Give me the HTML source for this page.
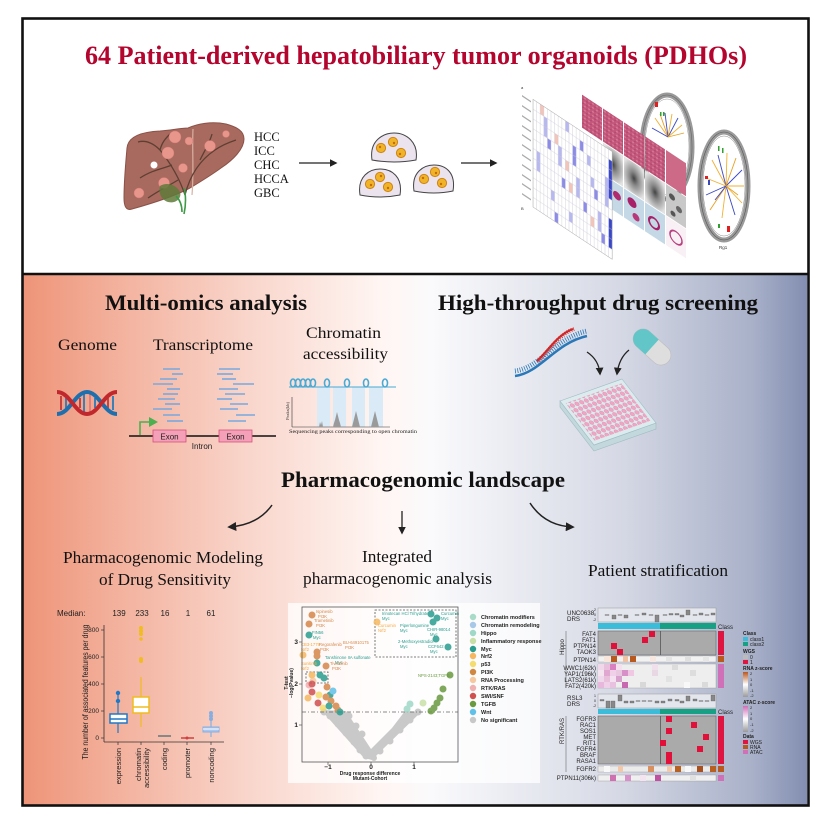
<!DOCTYPE html>
<html><head><meta charset="utf-8"><style>
html,body{margin:0;padding:0;background:#fff;}
svg{display:block;}
</style></head><body>
<svg width="831" height="831" viewBox="0 0 831 831" xmlns="http://www.w3.org/2000/svg">
<defs>
<linearGradient id="bg" x1="0" y1="0" x2="1" y2="0">
<stop offset="0" stop-color="#ee9478"/><stop offset="0.124" stop-color="#f3b29e"/><stop offset="0.29" stop-color="#f9d6cc"/><stop offset="0.46" stop-color="#fff6f3"/><stop offset="0.52" stop-color="#fafafc"/><stop offset="0.76" stop-color="#d6d9e5"/><stop offset="0.93" stop-color="#a9b1c9"/><stop offset="1" stop-color="#838eb1"/>
</linearGradient>
<pattern id="wells" patternUnits="userSpaceOnUse" width="9" height="8.5"><circle cx="4.5" cy="4.25" r="3.4" fill="#f2a4c4" stroke="#d87aa2" stroke-width="0.6"/></pattern>
<pattern id="hgrid" patternUnits="userSpaceOnUse" x="533" y="92" width="3.6" height="9.8"><rect width="3.6" height="9.8" fill="none" stroke="#c8c8d4" stroke-width="0.4"/></pattern>
<pattern id="pinktex" patternUnits="userSpaceOnUse" width="4" height="4"><rect width="4" height="4" fill="#c4587c"/><circle cx="1" cy="1" r="0.8" fill="#e08aa6"/><circle cx="3" cy="3" r="0.6" fill="#9c3a5e"/></pattern>
<radialGradient id="graytile" cx="0.5" cy="0.5" r="0.6"><stop offset="0" stop-color="#444"/><stop offset="0.35" stop-color="#888"/><stop offset="1" stop-color="#e2e2e2"/></radialGradient>
<linearGradient id="rnaz" x1="0" y1="0" x2="0" y2="1"><stop offset="0" stop-color="#b8561c"/><stop offset="0.5" stop-color="#ffffff"/><stop offset="1" stop-color="#9a9a9a"/></linearGradient>
<linearGradient id="ataz" x1="0" y1="0" x2="0" y2="1"><stop offset="0" stop-color="#d070b8"/><stop offset="0.5" stop-color="#ffffff"/><stop offset="1" stop-color="#9a9a9a"/></linearGradient>
<marker id="ah" viewBox="0 0 10 10" refX="8" refY="5" markerWidth="6" markerHeight="6" orient="auto"><path d="M0,0 L10,5 L0,10 Z" fill="#222"/></marker>
</defs>

<!-- background -->
<rect x="0" y="0" width="831" height="831" fill="#fff"/>
<rect x="23" y="274" width="784" height="531" fill="url(#bg)"/>

<!-- TITLE -->
<text x="85" y="64" font-family="Liberation Serif, serif" font-weight="bold" font-size="26" fill="#b3052e" textLength="662" lengthAdjust="spacingAndGlyphs">64 Patient-derived hepatobiliary tumor organoids (PDHOs)</text>

<!-- LIVER -->
<g>
<path d="M127,148 C128,137 140,132 160,131 C172,130 181,128 188,128 C197,124 211,121 226,124 C237,127 244,131 244,139 C244,149 233,160 221,168 C210,176 200,182 190,188 C175,196 150,204 132,209 C126,211 124,206 124,198 C124,180 126,160 127,148 Z" fill="#a86a5e" stroke="#8a5248" stroke-width="1"/>
<path d="M193,129 C192,150 194,170 192,195" stroke="#d9b0a2" stroke-width="1.2" fill="none"/>
<g stroke="#5e3f33" stroke-width="1.3" fill="none">
<path d="M185,195 C180,180 172,165 160,150 C152,142 145,140 138,142"/>
<path d="M172,165 C165,168 152,170 140,178"/>
<path d="M160,150 C162,142 166,138 170,134"/>
<path d="M185,195 C190,175 200,160 215,150 C222,145 230,142 236,140"/>
<path d="M200,160 C205,150 210,142 212,134"/>
<path d="M178,180 C170,185 160,190 148,198"/>
</g>
<g fill="#e8958c" stroke="#d47c74" stroke-width="0.5">
<circle cx="175" cy="137" r="6"/><circle cx="168" cy="153" r="6"/><circle cx="210" cy="146" r="5.5"/><circle cx="183" cy="168" r="4.5"/><circle cx="164" cy="183" r="5.5"/><circle cx="139" cy="193" r="5"/><circle cx="189" cy="141" r="4"/><circle cx="226" cy="134" r="3.5"/>
</g>
<circle cx="154" cy="165" r="3.5" fill="#fff"/>
<path d="M160,186 C166,182 176,184 180,192 C182,198 176,204 168,202 C162,200 158,194 160,186 Z" fill="#5f7a3a" opacity="0.85"/>
<path d="M176,196 C180,200 182,205 182,212 M184,188 C186,195 186,205 184,214" stroke="#3f9a48" stroke-width="1.6" fill="none"/>
</g>
<g font-family="Liberation Serif, serif" font-size="12.5" fill="#111">
<text x="254" y="141">HCC</text><text x="254" y="155">ICC</text><text x="254" y="169">CHC</text><text x="254" y="183">HCCA</text><text x="254" y="197">GBC</text>
</g>
<line x1="299" y1="163" x2="336" y2="163" stroke="#222" stroke-width="1.3" marker-end="url(#ah)"/>
<line x1="461" y1="163" x2="496" y2="163" stroke="#222" stroke-width="1.3" marker-end="url(#ah)"/>

<!-- organoid domes -->
<g stroke="#444" stroke-width="1" fill="#ebe3ee">
<path d="M372,160 C369,140 384,133 394,133 C406,133 419,142 416,160 Q394,164 372,160 Z"/>
<path d="M360,195 C357,176 370,169 380,169 C392,169 403,177 400,195 Q380,199 360,195 Z"/>
<path d="M414,191 C411,172 424,165 434,165 C446,165 456,173 453,191 Q434,195 414,191 Z"/>
</g>
<g fill="#f0b428" stroke="#d08414" stroke-width="1">
<circle cx="381" cy="148" r="4.6"/><circle cx="393" cy="142" r="4.6"/><circle cx="401" cy="153" r="4.6"/>
<circle cx="370" cy="184" r="4.6"/><circle cx="380" cy="177" r="4.6"/><circle cx="388" cy="187" r="4.6"/>
<circle cx="424" cy="179" r="4.6"/><circle cx="435" cy="172" r="4.6"/><circle cx="442" cy="183" r="4.6"/>
</g>
<g fill="#c86a10">
<circle cx="380" cy="147" r="1.2"/><circle cx="394" cy="143" r="1.2"/><circle cx="400" cy="154" r="1.2"/><circle cx="371" cy="185" r="1.2"/><circle cx="381" cy="176" r="1.2"/><circle cx="388" cy="188" r="1.2"/><circle cx="423" cy="178" r="1.2"/><circle cx="436" cy="173" r="1.2"/><circle cx="441" cy="184" r="1.2"/>
</g>

<!-- COMPOSITE FIGURE -->
<!-- circos 1 -->
<g>
<ellipse cx="667" cy="147" rx="25" ry="52" fill="#fff" stroke="#999" stroke-width="5"/>
<ellipse cx="667" cy="147" rx="25" ry="52" fill="none" stroke="#666" stroke-width="0.6"/>
<ellipse cx="667" cy="147" rx="22" ry="48" fill="none" stroke="#777" stroke-width="0.4"/>
<g stroke-width="0.9">
<line x1="668" y1="137" x2="655" y2="118" stroke="#f0b030"/><line x1="668" y1="137" x2="660" y2="114" stroke="#e8a020"/><line x1="668" y1="137" x2="665" y2="113" stroke="#3a48c0"/><line x1="668" y1="137" x2="672" y2="114" stroke="#f0b030"/><line x1="668" y1="137" x2="678" y2="118" stroke="#3a48c0"/><line x1="668" y1="137" x2="682" y2="125" stroke="#f0b030"/><line x1="668" y1="137" x2="652" y2="128" stroke="#3a48c0"/><line x1="668" y1="137" x2="684" y2="133" stroke="#e8a020"/>
</g>
<rect x="655" y="102" width="3" height="5" fill="#e02020"/><rect x="660" y="112" width="1.5" height="4" fill="#30a030"/><rect x="663" y="112" width="1.5" height="4" fill="#30a030"/>
</g>
<!-- circos 2 -->
<g>
<ellipse cx="724" cy="186" rx="24" ry="54" fill="#fff" stroke="#9a9a9a" stroke-width="5"/>
<ellipse cx="724" cy="186" rx="24" ry="54" fill="none" stroke="#555" stroke-width="0.6"/>
<ellipse cx="724" cy="186" rx="21" ry="50" fill="none" stroke="#666" stroke-width="0.4"/>
<g stroke-width="0.9">
<line x1="726" y1="186" x2="712" y2="160" stroke="#f0b030"/><line x1="726" y1="186" x2="718" y2="155" stroke="#3a48c0"/><line x1="726" y1="186" x2="727" y2="153" stroke="#f0b030"/><line x1="726" y1="186" x2="736" y2="158" stroke="#e8a020"/><line x1="726" y1="186" x2="742" y2="170" stroke="#3a48c0"/><line x1="726" y1="186" x2="744" y2="186" stroke="#f0b030"/><line x1="726" y1="186" x2="742" y2="203" stroke="#f0b030"/><line x1="726" y1="186" x2="735" y2="215" stroke="#3a48c0"/><line x1="726" y1="186" x2="722" y2="218" stroke="#f0b030"/><line x1="726" y1="186" x2="710" y2="210" stroke="#e8a020"/><line x1="726" y1="186" x2="706" y2="195" stroke="#3a48c0"/><line x1="726" y1="186" x2="706" y2="178" stroke="#f0b030"/><line x1="726" y1="186" x2="715" y2="200" stroke="#3a48c0"/><line x1="726" y1="186" x2="738" y2="195" stroke="#e8a020"/>
</g>
<rect x="705" y="176" width="3" height="3" fill="#e02020"/><rect x="708" y="180" width="2" height="5" fill="#3a48c0"/>
<rect x="718" y="146" width="1.5" height="5" fill="#30a030"/><rect x="722" y="148" width="1.5" height="5" fill="#30a030"/>
<rect x="718" y="224" width="2" height="4" fill="#30a030"/><rect x="727" y="226" width="3" height="6" fill="#e02020"/>
<text x="719" y="249" font-family="Liberation Sans, sans-serif" font-size="4.5" fill="#333">Rg1</text>
</g>

<g transform="matrix(1,0.66,0,1,0,-344.5)">
<!-- tiles -->
<g>
<rect x="582" y="55" width="20" height="33" fill="url(#pinktex)"/>
<rect x="603" y="55" width="20" height="33" fill="url(#pinktex)"/>
<rect x="624" y="55" width="20" height="33" fill="url(#pinktex)"/>
<rect x="645" y="55" width="20" height="33" fill="url(#pinktex)"/>
<rect x="666" y="55" width="20" height="33" fill="#cc6a88"/>
<rect x="603" y="89" width="20" height="31" fill="url(#graytile)"/>
<rect x="624" y="89" width="20" height="31" fill="url(#graytile)"/>
<rect x="645" y="89" width="20" height="31" fill="url(#graytile)"/>
<rect x="666" y="89" width="20" height="31" fill="#c8c8c8"/>
<circle cx="672" cy="98" r="3" fill="#555"/><circle cx="679" cy="106" r="3" fill="#666"/><circle cx="673" cy="114" r="2.5" fill="#555"/>
<rect x="603" y="121" width="20" height="29" fill="#c4d8e6"/>
<rect x="624" y="121" width="20" height="29" fill="#c4d8e6"/>
<rect x="645" y="121" width="20" height="29" fill="#c4d8e6"/>
<rect x="666" y="121" width="20" height="29" fill="#f8f0f4"/>
<circle cx="617" cy="133" r="4" fill="#b02a70"/><circle cx="632" cy="130" r="4.5" fill="#a82068"/><circle cx="636" cy="142" r="3.5" fill="#b8387a"/><circle cx="654" cy="136" r="5" fill="none" stroke="#a82068" stroke-width="2"/><circle cx="676" cy="136" r="6" fill="none" stroke="#b84080" stroke-width="1.5"/>
</g>
<!-- heatmap -->
<rect x="533" y="92" width="79.2" height="107.8" fill="#fff"/>
<g>
<rect x="543.8" y="101.8" width="3.6" height="19.6" fill="#b8b8f0"/><rect x="558.2" y="121.4" width="3.6" height="19.6" fill="#b8b8f0"/><rect x="565.4" y="92" width="3.6" height="9.8" fill="#b8b8f0"/><rect x="576.2" y="141" width="3.6" height="19.6" fill="#b8b8f0"/><rect x="587" y="111.6" width="3.6" height="9.8" fill="#b8b8f0"/><rect x="597.8" y="160.6" width="3.6" height="19.6" fill="#b8b8f0"/><rect x="551" y="170.4" width="3.6" height="9.8" fill="#b8b8f0"/><rect x="569" y="180.2" width="3.6" height="9.8" fill="#b8b8f0"/><rect x="590.6" y="131.2" width="3.6" height="9.8" fill="#b8b8f0"/><rect x="605" y="121.4" width="3.6" height="29.4" fill="#b8b8f0"/><rect x="536.6" y="141" width="3.6" height="19.6" fill="#b8b8f0"/>
<rect x="547.4" y="121.4" width="3.6" height="9.8" fill="#8c8ce8"/><rect x="561.8" y="150.8" width="3.6" height="9.8" fill="#8c8ce8"/><rect x="572.6" y="111.6" width="3.6" height="19.6" fill="#8c8ce8"/><rect x="583.4" y="160.6" width="3.6" height="9.8" fill="#8c8ce8"/><rect x="594.2" y="141" width="3.6" height="9.8" fill="#8c8ce8"/><rect x="601.4" y="180.2" width="3.6" height="9.8" fill="#8c8ce8"/><rect x="554.6" y="190" width="3.6" height="9.8" fill="#8c8ce8"/><rect x="579.8" y="101.8" width="3.6" height="9.8" fill="#8c8ce8"/>
<rect x="540.2" y="92" width="3.6" height="9.8" fill="#f4c4b8"/><rect x="554.6" y="111.6" width="3.6" height="9.8" fill="#f4c4b8"/><rect x="569" y="150.8" width="3.6" height="9.8" fill="#f4c4b8"/><rect x="590.6" y="170.4" width="3.6" height="9.8" fill="#f4c4b8"/><rect x="565.4" y="131.2" width="3.6" height="9.8" fill="#f4c4b8"/>
<rect x="608.6" y="101.8" width="3.6" height="39.2" fill="#3a48c8"/><rect x="608.6" y="160.6" width="3.6" height="29.4" fill="#3a48c8"/>
</g>
<rect x="533" y="92" width="79.2" height="107.8" fill="url(#hgrid)" stroke="#aaa" stroke-width="0.5"/>
<g fill="#aaa">
<rect x="522" y="95" width="9" height="1.5"/><rect x="522" y="105" width="9" height="1.5"/><rect x="522" y="115" width="9" height="1.5"/><rect x="522" y="125" width="9" height="1.5"/><rect x="522" y="134" width="9" height="1.5"/><rect x="522" y="144" width="9" height="1.5"/><rect x="522" y="154" width="9" height="1.5"/><rect x="522" y="164" width="9" height="1.5"/><rect x="522" y="174" width="9" height="1.5"/><rect x="522" y="183" width="9" height="1.5"/><rect x="522" y="193" width="9" height="1.5"/>
</g>
</g>
<text x="521" y="89" font-family="Liberation Sans, sans-serif" font-size="4" fill="#333">a</text>
<text x="521" y="210" font-family="Liberation Sans, sans-serif" font-size="4" fill="#333">B</text>

<!-- frame -->
<rect x="22.5" y="18.5" width="786" height="787" fill="none" stroke="#111" stroke-width="2.6"/>
<line x1="22" y1="274" x2="809" y2="274" stroke="#111" stroke-width="2.4"/>

<!-- ========== BOTTOM PANEL ========== -->
<text x="105" y="310" font-family="Liberation Serif, serif" font-weight="bold" font-size="22" fill="#111" textLength="202" lengthAdjust="spacingAndGlyphs">Multi-omics analysis</text>
<text x="438" y="310" font-family="Liberation Serif, serif" font-weight="bold" font-size="22" fill="#111" textLength="320" lengthAdjust="spacingAndGlyphs">High-throughput drug screening</text>

<g font-family="Liberation Serif, serif" font-size="16" fill="#111">
<text x="58" y="350" textLength="59" lengthAdjust="spacingAndGlyphs">Genome</text>
<text x="153" y="350" textLength="100" lengthAdjust="spacingAndGlyphs">Transcriptome</text>
<text x="306" y="338" textLength="75" lengthAdjust="spacingAndGlyphs">Chromatin</text>
<text x="303" y="359" textLength="85" lengthAdjust="spacingAndGlyphs">accessibility</text>
</g>

<!-- DNA helix -->
<g>
<g stroke-width="1.8">
<line x1="61" y1="396" x2="61" y2="410" stroke="#c03a3a"/><line x1="66" y1="398" x2="66" y2="408" stroke="#2a7ab8"/><line x1="80" y1="398" x2="80" y2="408" stroke="#c03a3a"/><line x1="84" y1="394" x2="84" y2="412" stroke="#2a7ab8"/><line x1="90" y1="394" x2="90" y2="412" stroke="#e07a7a"/><line x1="95" y1="398" x2="95" y2="408" stroke="#2a7ab8"/><line x1="108" y1="398" x2="108" y2="408" stroke="#c03a3a"/><line x1="113" y1="396" x2="113" y2="410" stroke="#2a7ab8"/>
</g>
<path d="M57,414 C70,414 75,392 87,392 C99,392 104,414 117,414" stroke="#1e6fae" stroke-width="4" fill="none"/>
<path d="M57,392 C70,392 75,414 87,414 C99,414 104,392 117,392" stroke="#c0282e" stroke-width="4" fill="none"/>
</g>

<!-- transcript reads -->
<g stroke="#78a8e0" stroke-width="1.6">
<line x1="163" y1="369" x2="180" y2="369"/><line x1="172" y1="374" x2="183" y2="374"/><line x1="160" y1="379" x2="177" y2="379"/><line x1="153" y1="384" x2="173" y2="384"/><line x1="167" y1="389" x2="180" y2="389"/><line x1="163" y1="394" x2="178" y2="394"/><line x1="158" y1="399" x2="175" y2="399"/><line x1="165" y1="404" x2="180" y2="404"/><line x1="153" y1="409" x2="172" y2="409"/><line x1="163" y1="415" x2="180" y2="415"/><line x1="167" y1="421" x2="183" y2="421"/>
<line x1="219" y1="369" x2="240" y2="369"/><line x1="217" y1="374" x2="233" y2="374"/><line x1="222" y1="379" x2="236" y2="379"/><line x1="233" y1="384" x2="254" y2="384"/><line x1="219" y1="389" x2="238" y2="389"/><line x1="225" y1="394" x2="245" y2="394"/><line x1="217" y1="399" x2="232" y2="399"/><line x1="230" y1="404" x2="248" y2="404"/><line x1="220" y1="409" x2="238" y2="409"/><line x1="236" y1="415" x2="255" y2="415"/><line x1="228" y1="421" x2="246" y2="421"/>
</g>
<path d="M140,435 L140,422 L150,422" stroke="#4caf50" stroke-width="1.6" fill="none"/>
<path d="M149,417 L158,422 L149,427 Z" fill="#4caf50"/>
<line x1="129" y1="436" x2="276" y2="436" stroke="#111" stroke-width="1.4"/>
<rect x="153" y="430" width="33" height="12" fill="#f4a0b8" stroke="#d8507c" stroke-width="0.8"/>
<rect x="219" y="430" width="33" height="12" fill="#f4a0b8" stroke="#d8507c" stroke-width="0.8"/>
<g font-family="Liberation Sans, sans-serif" font-size="8" fill="#222" text-anchor="middle">
<text x="169.5" y="439.5">Exon</text><text x="235.5" y="439.5">Exon</text><text x="202" y="449">Intron</text>
</g>

<!-- chromatin -->
<g>
<rect x="317" y="387" width="13" height="40" fill="#dbeaf7"/><rect x="333" y="387" width="13" height="40" fill="#dbeaf7"/><rect x="352" y="387" width="13" height="40" fill="#dbeaf7"/><rect x="369" y="387" width="14" height="40" fill="#dbeaf7"/>
<line x1="289" y1="387" x2="396" y2="387" stroke="#4aaad4" stroke-width="1"/>
<g fill="none" stroke="#4aaad4" stroke-width="1.6">
<ellipse cx="293" cy="383" rx="2.5" ry="4"/><ellipse cx="298" cy="383" rx="2.5" ry="4"/><ellipse cx="303" cy="383" rx="2.5" ry="4"/><ellipse cx="308" cy="383" rx="2.5" ry="4"/><ellipse cx="313" cy="383" rx="2.5" ry="4"/><ellipse cx="327" cy="383" rx="2.5" ry="4"/><ellipse cx="347" cy="383" rx="2.5" ry="4"/><ellipse cx="366" cy="383" rx="2.5" ry="4"/><ellipse cx="385" cy="383" rx="2.5" ry="4"/>
</g>
<line x1="292" y1="397" x2="292" y2="427" stroke="#333" stroke-width="0.6"/>
<line x1="292" y1="427" x2="390" y2="427" stroke="#333" stroke-width="0.6"/>
<g fill="#9a9a9a">
<path d="M319,427 L320,422 L321,425 L322,421 L323,427 Z"/>
<path d="M333,427 L334,423 L335,420 L336,416 L337,412 L338,416 L339,420 L340,423 L341,427 Z"/>
<path d="M352,427 L353,423 L354,419 L355,415 L356,411 L357,415 L358,419 L359,423 L360,427 Z"/>
<path d="M371,427 L372,423 L373,419 L374,415 L375,411 L376,415 L377,419 L378,423 L379,427 Z"/>
</g>
<text transform="translate(289,420) rotate(-90)" font-family="Liberation Serif, serif" font-size="4.5" fill="#333">Peaks(kb)</text>
<text x="289" y="433" font-family="Liberation Serif, serif" font-size="5.5" fill="#222" textLength="128" lengthAdjust="spacingAndGlyphs">Sequencing peaks corresponding to open chromatin</text>
</g>

<!-- drug screening -->
<g>
<path d="M515,376 C540,373 555,343 587,336" stroke="#2a78b8" stroke-width="2.5" fill="none"/>
<path d="M515,373 C540,370 555,340 587,333" stroke="#2a78b8" stroke-width="5" fill="none" stroke-dasharray="0.8 1.6" transform="translate(0,-2)"/>
<path d="M537,361 C548,351 558,334 573,329" stroke="#d02828" stroke-width="2.2" fill="none"/>
<path d="M537,358 C548,348 558,331 573,326" stroke="#d02828" stroke-width="4" fill="none" stroke-dasharray="0.8 1.6" transform="translate(1,3)"/>
<g transform="translate(652,347) rotate(42)">
<rect x="-22" y="-10" width="44" height="20" rx="10" fill="#dedede" stroke="#bdbdbd" stroke-width="0.6"/>
<path d="M-12,-10 L0,-10 L0,10 L-12,10 A10,10 0 0 1 -12,-10 Z" fill="#62c6c8"/>
</g>
<path d="M587,352 Q599,360 600,374" stroke="#222" stroke-width="1.3" fill="none" marker-end="url(#ah)"/>
<path d="M629,350 Q619,358 617,374" stroke="#222" stroke-width="1.3" fill="none" marker-end="url(#ah)"/>
<polygon points="560,401 594,445 656,423 656,429 594,451 560,407" fill="#c2d8dc" stroke="#9fbcc2" stroke-width="0.6"/>
<g transform="matrix(0.5167,-0.1833,0.425,0.55,560,401)">
<rect x="0" y="0" width="120" height="80" fill="#dcebee" stroke="#9fbcc2" stroke-width="1"/>
<rect x="6" y="6" width="108" height="68" fill="url(#wells)"/>
</g>
</g>

<!-- Pharmacogenomic landscape -->
<text x="281" y="487" font-family="Liberation Serif, serif" font-weight="bold" font-size="22" fill="#111" textLength="284" lengthAdjust="spacingAndGlyphs">Pharmacogenomic landscape</text>
<path d="M272,505 Q258,525 229,527" stroke="#222" stroke-width="1.5" fill="none" marker-end="url(#ah)"/>
<line x1="402" y1="511" x2="402" y2="533" stroke="#222" stroke-width="1.3" marker-end="url(#ah)"/>
<path d="M530,503 Q545,526 573,527" stroke="#222" stroke-width="1.5" fill="none" marker-end="url(#ah)"/>

<g font-family="Liberation Serif, serif" font-size="17" fill="#111">
<text x="63" y="563" textLength="200" lengthAdjust="spacingAndGlyphs">Pharmacogenomic Modeling</text>
<text x="99" y="585" textLength="132" lengthAdjust="spacingAndGlyphs">of Drug Sensitivity</text>
<text x="362" y="562" textLength="70" lengthAdjust="spacingAndGlyphs">Integrated</text>
<text x="303" y="584" textLength="189" lengthAdjust="spacingAndGlyphs">pharmacogenomic analysis</text>
<text x="588" y="576" textLength="140" lengthAdjust="spacingAndGlyphs">Patient stratification</text>
</g>

<!-- BOX PLOT -->
<g font-family="Liberation Sans, sans-serif" fill="#222">
<text x="57" y="616" font-size="8">Median:</text>
<g font-size="8" text-anchor="middle"><text x="119" y="616">139</text><text x="142" y="616">233</text><text x="165" y="616">16</text><text x="188" y="616">1</text><text x="211" y="616">61</text></g>
<line x1="104" y1="625" x2="104" y2="742" stroke="#333" stroke-width="0.8"/>
<line x1="104" y1="742" x2="224" y2="742" stroke="#333" stroke-width="0.8"/>
<g stroke="#333" stroke-width="0.7"><line x1="101" y1="630" x2="104" y2="630"/><line x1="101" y1="657" x2="104" y2="657"/><line x1="101" y1="684" x2="104" y2="684"/><line x1="101" y1="711" x2="104" y2="711"/><line x1="101" y1="738" x2="104" y2="738"/>
<line x1="118" y1="742" x2="118" y2="745"/><line x1="141" y1="742" x2="141" y2="745"/><line x1="164" y1="742" x2="164" y2="745"/><line x1="187" y1="742" x2="187" y2="745"/><line x1="211" y1="742" x2="211" y2="745"/></g>
<g font-size="6.5" text-anchor="end"><text x="99" y="632">800</text><text x="99" y="659">600</text><text x="99" y="686">400</text><text x="99" y="713">200</text><text x="99" y="740">0</text></g>
<text transform="translate(88,692) rotate(-90)" font-size="8.5" text-anchor="middle" textLength="135" lengthAdjust="spacingAndGlyphs">The number of associated features per drug</text>
<g font-size="7.5" text-anchor="end">
<text transform="translate(121,748) rotate(-90)">expression</text>
<text transform="translate(141,748) rotate(-90)">chromatin</text>
<text transform="translate(149,748) rotate(-90)">accessibility</text>
<text transform="translate(167,748) rotate(-90)">coding</text>
<text transform="translate(190,748) rotate(-90)">promoter</text>
<text transform="translate(214,748) rotate(-90)">noncoding</text>
</g>
</g>
<!-- boxes -->
<g>
<line x1="118" y1="695" x2="118" y2="733" stroke="#1f78c8" stroke-width="1.2"/>
<rect x="110" y="714" width="17" height="9" fill="#fff" stroke="#1f78c8" stroke-width="1.5"/>
<line x1="110" y1="719" x2="127" y2="719" stroke="#1f78c8" stroke-width="1.5"/>
<circle cx="118" cy="693" r="2.2" fill="#1f78c8"/><circle cx="118" cy="701" r="2.2" fill="#1f78c8"/>
<line x1="141" y1="677" x2="141" y2="727" stroke="#f0bc20" stroke-width="1.2"/>
<rect x="133" y="697" width="16" height="16" fill="#fff" stroke="#f0bc20" stroke-width="1.5"/>
<line x1="133" y1="707" x2="149" y2="707" stroke="#f0bc20" stroke-width="1.5"/>
<g fill="#f0bc20"><circle cx="141" cy="628" r="2"/><circle cx="141" cy="631" r="2"/><circle cx="141" cy="634" r="2"/><circle cx="141" cy="639" r="1.8"/><circle cx="141" cy="659" r="2"/><circle cx="141" cy="661" r="2"/></g>
<line x1="158" y1="736" x2="171" y2="736" stroke="#888" stroke-width="2"/>
<line x1="181" y1="738" x2="194" y2="738" stroke="#d04040" stroke-width="1.5"/><circle cx="187" cy="738" r="1.5" fill="#d04040"/>
<line x1="211" y1="720" x2="211" y2="737" stroke="#88aee0" stroke-width="1.2"/>
<rect x="203" y="727" width="16" height="5" fill="#aac6ee" stroke="#88aee0" stroke-width="1"/>
<line x1="203" y1="729" x2="219" y2="729" stroke="#fff" stroke-width="1"/>
<g fill="#88aee0"><circle cx="211" cy="713" r="2"/><circle cx="211" cy="716" r="2"/><circle cx="211" cy="719" r="2"/></g>
</g>

<!-- VOLCANO -->
<rect x="288" y="603" width="252" height="180" fill="#fff" opacity="0.75"/>
<g>
<path d="M321,710 L346,711 L371,749 L392,728 L405,711 L421,712 L384,748 L372,760 L364,758 Z" fill="#c9c9c9"/>
<g fill="#c9c9c9">
<circle cx="324" cy="712" r="3.5"/><circle cx="330" cy="716" r="3.5"/><circle cx="338" cy="724" r="3.5"/><circle cx="346" cy="733" r="3.5"/><circle cx="354" cy="742" r="3.5"/><circle cx="360" cy="750" r="3.5"/><circle cx="366" cy="756" r="3.5"/><circle cx="349" cy="716" r="3.5"/><circle cx="356" cy="726" r="3.5"/><circle cx="362" cy="734" r="3.5"/><circle cx="418" cy="712" r="3.5"/><circle cx="410" cy="720" r="3.5"/><circle cx="400" cy="730" r="3.5"/><circle cx="390" cy="741" r="3.5"/><circle cx="380" cy="751" r="3.5"/><circle cx="374" cy="758" r="3"/>
</g>
<line x1="302" y1="712" x2="458" y2="712" stroke="#666" stroke-width="0.8" stroke-dasharray="4 2 1 2"/>
<rect x="375" y="610" width="81" height="47" fill="none" stroke="#555" stroke-width="0.8" stroke-dasharray="2 1.5"/>
<rect x="306" y="672" width="22" height="11" fill="none" stroke="#555" stroke-width="0.8" stroke-dasharray="2 1.5"/>
<g opacity="0.85">
<circle cx="312" cy="615" r="3.5" fill="#d4874a"/><circle cx="309" cy="624" r="3.5" fill="#d4874a"/><circle cx="309" cy="635" r="3.5" fill="#2a9d8f"/><circle cx="303" cy="655" r="3.5" fill="#f5b860"/><circle cx="317" cy="652" r="3.5" fill="#d4874a"/><circle cx="317" cy="656" r="3.5" fill="#d4874a"/><circle cx="317" cy="663" r="3.5" fill="#2a9d8f"/><circle cx="326" cy="666" r="3.5" fill="#d4874a"/><circle cx="313" cy="681" r="3.5" fill="#f5c8a0"/><circle cx="312" cy="675" r="3.5" fill="#f5b860"/><circle cx="309" cy="685" r="3.5" fill="#f0b0b0"/><circle cx="312" cy="684" r="3.5" fill="#d05050"/><circle cx="312" cy="692" r="3.5" fill="#d05050"/><circle cx="308" cy="698" r="3.5" fill="#f5b860"/><circle cx="319" cy="695" r="3.5" fill="#f5dc70"/><circle cx="318" cy="703" r="3.5" fill="#d05050"/><circle cx="323" cy="708" r="3.5" fill="#f5dc70"/>
<circle cx="320" cy="675" r="3.5" fill="#2a9d8f"/><circle cx="324" cy="678" r="3.5" fill="#2a9d8f"/><circle cx="327" cy="687" r="3.5" fill="#d4874a"/><circle cx="330" cy="695" r="3.5" fill="#2a9d8f"/><circle cx="333" cy="691" r="3.5" fill="#60c0e8"/><circle cx="331" cy="701" r="3.5" fill="#d4874a"/><circle cx="336" cy="706" r="3.5" fill="#d4874a"/><circle cx="338" cy="710" r="3.5" fill="#d4874a"/><circle cx="329" cy="706" r="3.5" fill="#2a9d8f"/><circle cx="340" cy="712" r="3.5" fill="#2a9d8f"/><circle cx="326" cy="697" r="3.5" fill="#d4874a"/>
<circle cx="431" cy="614" r="3.5" fill="#2a9d8f"/><circle cx="437" cy="618" r="3.5" fill="#2a9d8f"/><circle cx="433" cy="622" r="3.5" fill="#2a9d8f"/><circle cx="436" cy="639" r="3.5" fill="#2a9d8f"/><circle cx="448" cy="647" r="3.5" fill="#2a9d8f"/><circle cx="377" cy="622" r="3.5" fill="#f5b860"/>
<circle cx="450" cy="675" r="3.5" fill="#6a9a40"/><circle cx="443" cy="689" r="3.5" fill="#6a9a40"/><circle cx="440" cy="698" r="3.5" fill="#6a9a40"/><circle cx="437" cy="703" r="3.5" fill="#6a9a40"/><circle cx="434" cy="708" r="3.5" fill="#6a9a40"/><circle cx="431" cy="711" r="3.5" fill="#6a9a40"/><circle cx="410" cy="704" r="3.5" fill="#a0d8c8"/><circle cx="407" cy="709" r="3.5" fill="#a0d8c8"/><circle cx="423" cy="703" r="3.5" fill="#c8e0a8"/>
</g>
<g font-family="Liberation Sans, sans-serif" font-size="4.2">
<text x="316" y="613" fill="#d4874a">Ispinesib</text><text x="318" y="618" fill="#d4874a">PI3K</text>
<text x="314" y="622" fill="#d4874a">Trametinib</text><text x="316" y="627" fill="#d4874a">PI3K</text>
<text x="312" y="634" fill="#2a9d8f">FIN56</text><text x="313" y="639" fill="#2a9d8f">Myc</text>
<text x="301" y="646" fill="#f5a840">CB3-1779</text><text x="301" y="651" fill="#f5a840">Nrf2</text>
<text x="319" y="646" fill="#d4874a">Regorafenib</text><text x="320" y="651" fill="#d4874a">PI3K</text>
<text x="343" y="644" fill="#d4874a">BU-64910175</text><text x="345" y="649" fill="#d4874a">PI3K</text>
<text x="325" y="659" fill="#2a9d8f">Tanshinone IIA sulfonate</text><text x="335" y="664" fill="#2a9d8f">Myc</text>
<text x="330" y="665" fill="#d4874a">Tivantinib</text><text x="332" y="670" fill="#d4874a">PI3K</text>
<text x="301" y="665" fill="#f5a840">Sunitinib</text><text x="301" y="670" fill="#f5a840">Nrf2</text>
<text x="382" y="615" fill="#2a9d8f">Irinotecan HCl Trihydrate</text><text x="382" y="620" fill="#2a9d8f">Myc</text>
<text x="441" y="615" fill="#2a9d8f">Curcumin</text><text x="441" y="620" fill="#2a9d8f">Myc</text>
<text x="378" y="627" fill="#f5a840">Curcumin</text><text x="378" y="632" fill="#f5a840">Nrf2</text>
<text x="400" y="627" fill="#2a9d8f">Piperlongumine</text><text x="400" y="632" fill="#2a9d8f">Myc</text>
<text x="427" y="631" fill="#2a9d8f">CHIR-98014</text><text x="430" y="636" fill="#2a9d8f">Myc</text>
<text x="398" y="643" fill="#2a9d8f">2-Methoxyestradiol</text><text x="400" y="648" fill="#2a9d8f">Myc</text>
<text x="428" y="648" fill="#2a9d8f">CCF642</text><text x="430" y="653" fill="#2a9d8f">Myc</text>
<text x="418" y="677" fill="#6a9a40">NPS-2143;TGFB</text>
</g>
<rect x="302" y="607" width="156" height="155" fill="none" stroke="#555" stroke-width="0.8"/>
<g stroke="#555" stroke-width="0.7"><line x1="299" y1="642" x2="302" y2="642"/><line x1="299" y1="684" x2="302" y2="684"/><line x1="299" y1="725" x2="302" y2="725"/><line x1="328" y1="762" x2="328" y2="765"/><line x1="371" y1="762" x2="371" y2="765"/><line x1="414" y1="762" x2="414" y2="765"/></g>
<g font-family="Liberation Sans, sans-serif" font-size="6.5" font-weight="bold" fill="#222">
<text x="298" y="644" text-anchor="end">3</text><text x="298" y="686" text-anchor="end">2</text><text x="298" y="727" text-anchor="end">1</text>
<text x="328" y="769" text-anchor="middle">−1</text><text x="371" y="769" text-anchor="middle">0</text><text x="414" y="769" text-anchor="middle">1</text>
</g>
<g font-family="Liberation Sans, sans-serif" font-size="5" font-weight="bold" fill="#222" text-anchor="middle">
<text x="370" y="775">Drug response difference</text><text x="370" y="780">Mutant-Cohort</text>
<text transform="translate(288,683) rotate(-90)">T-test</text><text transform="translate(293,683) rotate(-90)">−log(Pvalue)</text>
</g>
<!-- legend -->
<g>
<circle cx="473" cy="617" r="3.2" fill="#a8dcc8"/><circle cx="473" cy="625" r="3.2" fill="#a8c8e8"/><circle cx="473" cy="633" r="3.2" fill="#a0d8c8"/><circle cx="473" cy="641" r="3.2" fill="#c8e0a8"/><circle cx="473" cy="649" r="3.2" fill="#2a9d8f"/><circle cx="473" cy="656" r="3.2" fill="#f5b860"/><circle cx="473" cy="664" r="3.2" fill="#f5dc70"/><circle cx="473" cy="672" r="3.2" fill="#d08840"/><circle cx="473" cy="680" r="3.2" fill="#f5c8a0"/><circle cx="473" cy="688" r="3.2" fill="#f0b0b0"/><circle cx="473" cy="696" r="3.2" fill="#d05050"/><circle cx="473" cy="704" r="3.2" fill="#6a9a40"/><circle cx="473" cy="712" r="3.2" fill="#60c0e8"/><circle cx="473" cy="720" r="3.2" fill="#c8c8c8"/>
<g font-family="Liberation Sans, sans-serif" font-size="5.5" font-weight="bold" fill="#222">
<text x="481" y="619">Chromatin modifiers</text><text x="481" y="627">Chromatin remodeling</text><text x="481" y="635">Hippo</text><text x="481" y="643">Inflammatory response</text><text x="481" y="651">Myc</text><text x="481" y="658">Nrf2</text><text x="481" y="666">p53</text><text x="481" y="674">PI3K</text><text x="481" y="682">RNA Processing</text><text x="481" y="690">RTK/RAS</text><text x="481" y="698">SWI/SNF</text><text x="481" y="706">TGFB</text><text x="481" y="714">Wnt</text><text x="481" y="722">No significant</text>
</g>
</g>
</g>

<!-- PATIENT STRATIFICATION HEATMAP -->
<g font-family="Liberation Sans, sans-serif" fill="#222">
<!-- group 1 -->
<text x="567" y="615" font-size="6.2">UNC0638</text><text x="567" y="621" font-size="6.2">DRS</text>
<g font-size="3.5"><text x="594" y="611">2</text><text x="594" y="616">0</text><text x="593" y="621">-2</text></g>
<rect x="598" y="608" width="118" height="14" fill="#e4e6ee" stroke="#999" stroke-width="0.5"/>
<g fill="#888" stroke="#555" stroke-width="0.3">
<rect x="605" y="614.6" width="4" height="0.8"/><rect x="612" y="615" width="4" height="4"/><rect x="618" y="614.6" width="4" height="0.8"/><rect x="624" y="615" width="4" height="3"/><rect x="635" y="614.6" width="4" height="0.8"/><rect x="642" y="613" width="4" height="2"/><rect x="649" y="614.6" width="4" height="0.8"/><rect x="655" y="615" width="4" height="7"/><rect x="663" y="614.6" width="4" height="0.8"/><rect x="669" y="613.5" width="4" height="1.5"/><rect x="675" y="613.5" width="4" height="1.5"/><rect x="680" y="615" width="4" height="2"/><rect x="686" y="610" width="4" height="5"/><rect x="693" y="614.6" width="4" height="0.8"/><rect x="699" y="613" width="4" height="2"/><rect x="705" y="614.6" width="4" height="0.8"/><rect x="711" y="613" width="4" height="2"/>
</g>
<rect x="598" y="623" width="62" height="6" fill="#3bbcd8"/><rect x="660" y="623" width="56" height="6" fill="#17a084"/>
<text x="718" y="629" font-size="6">Class</text>
<rect x="598" y="631" width="118" height="24" fill="#aaaaaa" stroke="#666" stroke-width="0.6"/>
<line x1="660.5" y1="631" x2="660.5" y2="655" stroke="#555" stroke-width="0.8"/>
<g fill="#e0103a"><rect x="649" y="631" width="6" height="6"/><rect x="642" y="637" width="6" height="6"/><rect x="611" y="643" width="6" height="6"/><rect x="617" y="649" width="6" height="6"/></g>
<rect x="718" y="631" width="6" height="24" fill="#dd1540"/>
<g font-size="6" text-anchor="end"><text x="596" y="636">FAT4</text><text x="596" y="642">FAT1</text><text x="596" y="648">PTPN14</text><text x="596" y="654">TAOK3</text><text x="596" y="662">PTPN14</text><text x="596" y="670">WWC1(62k)</text><text x="596" y="676">YAP1(196k)</text><text x="596" y="682">LATS2(61k)</text><text x="596" y="688">FAT2(420k)</text></g>
<line x1="566" y1="631" x2="566" y2="688" stroke="#555" stroke-width="0.5"/>
<text transform="translate(564,647) rotate(-90)" font-size="6" text-anchor="middle">Hippo</text>
<rect x="598" y="656" width="118" height="6" fill="#f2f2f2" stroke="#999" stroke-width="0.4"/>
<g><rect x="604" y="656" width="6" height="6" fill="#f8e6dc"/><rect x="611" y="656" width="6" height="6" fill="#b85a20"/><rect x="623" y="656" width="5" height="6" fill="#f0c0a0"/><rect x="630" y="656" width="6" height="6" fill="#b85a20"/><rect x="650" y="656" width="6" height="6" fill="#f6e8e0"/><rect x="666" y="656" width="6" height="6" fill="#e4e4e4"/><rect x="685" y="656" width="6" height="6" fill="#e0e0e0"/><rect x="703" y="656" width="6" height="6" fill="#e6e6e6"/></g>
<rect x="718" y="656" width="6" height="6" fill="#b85a20"/>
<rect x="598" y="664" width="118" height="24" fill="#eeeeee" stroke="#999" stroke-width="0.4"/>
<g>
<rect x="598" y="664" width="6" height="6" fill="#f0d8ea"/><rect x="604" y="664" width="6" height="6" fill="#e8c0dc"/><rect x="610" y="664" width="6" height="6" fill="#d880c0"/><rect x="616" y="664" width="6" height="6" fill="#f4e0ee"/><rect x="652" y="664" width="6" height="6" fill="#f0e0ec"/>
<rect x="598" y="670" width="6" height="6" fill="#f4e4f0"/><rect x="604" y="670" width="6" height="6" fill="#e0a8d0"/><rect x="610" y="670" width="6" height="6" fill="#f0d0e8"/><rect x="616" y="670" width="6" height="6" fill="#e8c8e0"/><rect x="622" y="670" width="6" height="6" fill="#d890c8"/><rect x="628" y="670" width="6" height="6" fill="#f0c8e4"/><rect x="652" y="670" width="6" height="6" fill="#e8d8e4"/>
<rect x="598" y="676" width="6" height="6" fill="#f0d8ec"/><rect x="604" y="676" width="6" height="6" fill="#e8c0dc"/><rect x="610" y="676" width="6" height="6" fill="#f4e0f0"/><rect x="616" y="676" width="6" height="6" fill="#d8a0cc"/>
<rect x="598" y="682" width="6" height="6" fill="#e8b8dc"/><rect x="604" y="682" width="6" height="6" fill="#f0d0e8"/><rect x="610" y="682" width="6" height="6" fill="#e8c0e0"/><rect x="622" y="682" width="6" height="6" fill="#c868b0"/><rect x="640" y="682" width="6" height="6" fill="#d8d8d8"/>
<rect x="672" y="664" width="6" height="6" fill="#dcdcdc"/><rect x="690" y="670" width="6" height="6" fill="#dddddd"/><rect x="666" y="676" width="6" height="6" fill="#e2e2e2"/><rect x="702" y="682" width="6" height="6" fill="#dadada"/><rect x="684" y="682" width="6" height="6" fill="#f8f8f8"/>
</g>
<rect x="718" y="664" width="6" height="24" fill="#d070b8"/>

<!-- group 2 -->
<text x="567" y="700" font-size="6.2">RSL3</text><text x="567" y="706" font-size="6.2">DRS</text>
<g font-size="3.5"><text x="594" y="697">1</text><text x="594" y="702">0</text><text x="593" y="707">-2</text></g>
<rect x="598" y="694" width="118" height="14" fill="#e4e6ee" stroke="#999" stroke-width="0.5"/>
<g fill="#888" stroke="#555" stroke-width="0.3">
<rect x="600" y="699.5" width="4" height="1.5"/><rect x="606" y="701" width="4" height="7"/><rect x="611" y="701" width="4" height="7"/><rect x="618" y="695" width="4" height="6"/><rect x="624" y="701" width="4" height="2"/><rect x="630" y="701" width="4" height="2"/><rect x="636" y="700.6" width="4" height="0.8"/><rect x="642" y="700.6" width="4" height="0.8"/><rect x="648" y="700.6" width="4" height="0.8"/><rect x="655" y="701" width="4" height="2"/><rect x="661" y="701" width="4" height="2"/><rect x="668" y="699" width="4" height="2"/><rect x="675" y="699.5" width="4" height="1.5"/><rect x="680" y="701" width="4" height="2"/><rect x="686" y="696" width="4" height="5"/><rect x="693" y="699" width="4" height="2"/><rect x="699" y="700.6" width="4" height="0.8"/><rect x="705" y="700.6" width="4" height="0.8"/><rect x="711" y="695" width="4" height="6"/>
</g>
<rect x="598" y="709" width="62" height="5" fill="#3bbcd8"/><rect x="660" y="709" width="56" height="5" fill="#17a084"/>
<text x="718" y="714" font-size="6">Class</text>
<rect x="598" y="716" width="118" height="48" fill="#aaaaaa" stroke="#666" stroke-width="0.6"/>
<line x1="660.5" y1="716" x2="660.5" y2="764" stroke="#555" stroke-width="0.8"/>
<g fill="#e0103a"><rect x="666" y="716" width="6" height="6"/><rect x="691" y="722" width="6" height="6"/><rect x="666" y="728" width="6" height="6"/><rect x="703" y="734" width="6" height="6"/><rect x="660" y="740" width="6" height="6"/><rect x="697" y="746" width="6" height="6"/><rect x="666" y="752" width="6" height="12"/></g>
<rect x="718" y="716" width="6" height="48" fill="#dd1540"/>
<g font-size="6" text-anchor="end"><text x="596" y="721">FGFR3</text><text x="596" y="727">RAC1</text><text x="596" y="733">SOS1</text><text x="596" y="739">MET</text><text x="596" y="745">RIT1</text><text x="596" y="751">FGFR4</text><text x="596" y="757">BRAF</text><text x="596" y="763">RASA1</text><text x="596" y="771">FGFR2</text><text x="596" y="780">PTPN11(306k)</text></g>
<line x1="566" y1="716" x2="566" y2="772" stroke="#555" stroke-width="0.5"/>
<text transform="translate(564,731) rotate(-90)" font-size="6" text-anchor="middle">RTK/RAS</text>
<rect x="598" y="766" width="118" height="6" fill="#ebebeb" stroke="#999" stroke-width="0.4"/>
<g><rect x="618" y="766" width="5" height="6" fill="#f2c8ac"/><rect x="648" y="766" width="6" height="6" fill="#d89060"/><rect x="667" y="766" width="5" height="6" fill="#f2c8ac"/><rect x="675" y="766" width="6" height="6" fill="#b86020"/><rect x="697" y="766" width="6" height="6" fill="#a85020"/><rect x="710" y="766" width="6" height="6" fill="#b86020"/><rect x="604" y="766" width="6" height="6" fill="#f8f8f8"/><rect x="685" y="766" width="6" height="6" fill="#f8f8f8"/></g>
<rect x="718" y="766" width="6" height="6" fill="#b85a20"/>
<rect x="598" y="775" width="118" height="6" fill="#efefef" stroke="#999" stroke-width="0.4"/>
<g><rect x="610" y="775" width="6" height="6" fill="#d070b0"/><rect x="625" y="775" width="6" height="6" fill="#d890c8"/><rect x="655" y="775" width="6" height="6" fill="#c050a0"/><rect x="640" y="775" width="6" height="6" fill="#f4e4f0"/><rect x="690" y="775" width="6" height="6" fill="#e0e0e0"/></g>
<rect x="718" y="775" width="6" height="6" fill="#d070b8"/>

<!-- legend -->
<g font-size="5">
<text x="743" y="635" font-weight="bold">Class</text>
<rect x="743" y="637" width="5" height="4" fill="#3bbcd8"/><text x="750" y="641">class1</text>
<rect x="743" y="642" width="5" height="4" fill="#17a084"/><text x="750" y="646">class2</text>
<text x="743" y="653" font-weight="bold">WGS</text>
<rect x="743" y="655" width="5" height="4" fill="#bbbbbb"/><text x="750" y="659">0</text>
<rect x="743" y="660" width="5" height="4" fill="#dd1540"/><text x="750" y="664">1</text>
<text x="743" y="670" font-weight="bold">RNA z-score</text>
<rect x="743" y="672" width="5" height="25" fill="url(#rnaz)"/>
<g font-size="4"><text x="750" y="675">2</text><text x="750" y="681">1</text><text x="750" y="686">0</text><text x="750" y="692">-1</text><text x="750" y="697">-2</text></g>
<text x="743" y="704" font-weight="bold">ATAC z-score</text>
<rect x="743" y="706" width="5" height="26" fill="url(#ataz)"/>
<g font-size="4"><text x="750" y="709">2</text><text x="750" y="715">1</text><text x="750" y="720">0</text><text x="750" y="726">-1</text><text x="750" y="732">-2</text></g>
<text x="743" y="738" font-weight="bold">Data</text>
<rect x="743" y="740" width="5" height="4" fill="#dd1540"/><text x="750" y="744">WGS</text>
<rect x="743" y="745" width="5" height="4" fill="#b85a20"/><text x="750" y="749">RNA</text>
<rect x="743" y="750" width="5" height="4" fill="#d070b8"/><text x="750" y="754">ATAC</text>
</g>
</g>
</svg>
</body></html>
